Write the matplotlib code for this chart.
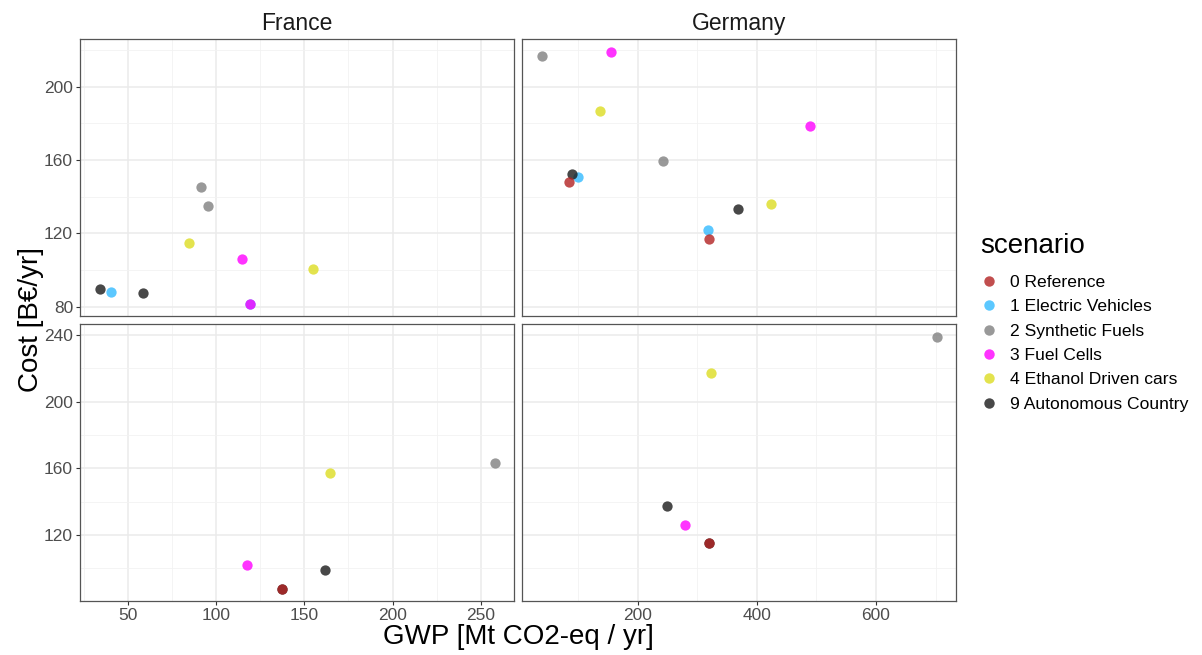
import matplotlib.pyplot as plt
from matplotlib.ticker import MultipleLocator
from matplotlib.lines import Line2D

plt.rcParams['font.family'] = ['Liberation Sans', 'DejaVu Sans']

# scenario names and colours
scenarios = ['0 Reference', '1 Electric Vehicles', '2 Synthetic Fuels',
             '3 Fuel Cells', '4 Ethanol Driven cars', '9 Autonomous Country']
colors = ['#B22222', '#33BBFF', '#808080', '#FF00FF', '#DDDD22', '#1A1A1A']
draw_order = [1, 5, 0, 2, 3, 4]   # index order of drawing

# data per panel: scenario index, GWP, cost
fr_top_s = [5, 1, 5, 4, 2, 2, 3, 1, 3, 4]
fr_top_x = [34.2, 40.7, 58.5, 84.7, 91.7, 95.3, 114.6, 119.3, 119.3, 154.8]
fr_top_y = [89.6, 88.2, 87.6, 114.7, 145.5, 135.1, 105.9, 81.6, 81.6, 100.4]

de_top_s = [2, 3, 4, 3, 2, 5, 1, 0, 5, 4, 1, 0]
de_top_x = [38.9, 154.7, 137.3, 489.1, 243.0, 90.3, 99.4, 84.8, 368.3, 423.2, 318.5, 319.6]
de_top_y = [216.7, 219.1, 186.7, 178.4, 159.5, 152.2, 150.7, 148.2, 133.3, 135.8, 121.8, 116.9]

fr_bot_s = [2, 4, 3, 5, 5, 0]
fr_bot_x = [257.8, 164.6, 117.6, 161.7, 137.4, 137.4]
fr_bot_y = [163.4, 157.4, 101.8, 99.0, 87.8, 87.8]

de_bot_s = [2, 4, 5, 3, 5, 0]
de_bot_x = [701.7, 323.5, 249.2, 279.4, 319.9, 319.9]
de_bot_y = [239.0, 217.4, 137.4, 126.0, 115.4, 115.4]

fig = plt.figure(figsize=(12.02, 6.55), dpi=100)
W, H = 1202, 655


def make_ax(x0, y0, x1, y1):
    return fig.add_axes([x0 / W, 1 - y1 / H, (x1 - x0) / W, (y1 - y0) / H])


def style(ax, xlim, ylim, xmaj, ymaj, xlab, ylab):
    ax.set_xlim(*xlim)
    ax.set_ylim(*ylim)
    ax.xaxis.set_major_locator(MultipleLocator(xmaj))
    ax.xaxis.set_minor_locator(MultipleLocator(xmaj / 2))
    ax.yaxis.set_major_locator(MultipleLocator(ymaj))
    ax.yaxis.set_minor_locator(MultipleLocator(ymaj / 2))
    ax.grid(True, which='major', color='#EBEBEB', linewidth=1.1)
    ax.grid(True, which='minor', color='#F2F2F2', linewidth=0.6)
    ax.set_axisbelow(True)
    for sp in ax.spines.values():
        sp.set_color('#555555')
        sp.set_linewidth(0.9)
    ax.tick_params(which='major', length=3, width=0.8, color='#333333',
                   labelcolor='#4D4D4D', labelsize=12.5, pad=2)
    ax.tick_params(which='minor', length=0)
    if not xlab:
        ax.tick_params(axis='x', labelbottom=False, length=0)
    if not ylab:
        ax.tick_params(axis='y', labelleft=False, length=0)


def draw(ax, s, x, y):
    for k in draw_order:
        xs = [x[i] for i in range(len(s)) if s[i] == k]
        ys = [y[i] for i in range(len(s)) if s[i] == k]
        ax.scatter(xs, ys, s=55, color=colors[k], alpha=0.8, linewidths=0)


ax1 = make_ax(80, 39.3, 514, 315.7)
ax2 = make_ax(522.3, 39.3, 956.3, 315.7)
ax3 = make_ax(80, 324.3, 514, 600.7)
ax4 = make_ax(522.3, 324.3, 956.3, 600.7)

fr_xlim = (23.0, 268.7)
de_xlim = (6.4, 734.7)
top_ylim = (75.1, 225.9)
bot_ylim = (80.6, 246.4)

style(ax1, fr_xlim, top_ylim, 50, 40, False, True)
style(ax2, de_xlim, top_ylim, 200, 40, False, False)
style(ax3, fr_xlim, bot_ylim, 50, 40, True, True)
style(ax4, de_xlim, bot_ylim, 200, 40, True, False)

draw(ax1, fr_top_s, fr_top_x, fr_top_y)
draw(ax2, de_top_s, de_top_x, de_top_y)
draw(ax3, fr_bot_s, fr_bot_x, fr_bot_y)
draw(ax4, de_bot_s, de_bot_x, de_bot_y)

ax1.set_title('France', fontsize=16.5, color='#1A1A1A', pad=7)
ax2.set_title('Germany', fontsize=16.5, color='#1A1A1A', pad=7)

fig.text(518 / W, 1 - 637 / H, 'GWP [Mt CO2-eq / yr]', fontsize=20,
         ha='center', va='center')
fig.text(31 / W, 1 - 320 / H, 'Cost [B€/yr]', fontsize=20, rotation=90,
         ha='center', va='center')

handles = [Line2D([], [], linestyle='none', marker='o', markersize=7.5,
                  markerfacecolor=c, markeredgewidth=0, alpha=0.8)
           for c in colors]
leg = fig.legend(handles, scenarios, loc='upper left',
                 bbox_to_anchor=(964 / W, 1 - 217 / H), frameon=False,
                 title='scenario', fontsize=12.6, title_fontsize=20,
                 handletextpad=0.7, labelspacing=0.52, handlelength=1.0)
leg._legend_box.align = 'left'
leg._legend_box.sep = 11.5

plt.savefig('out.png', dpi=100)
